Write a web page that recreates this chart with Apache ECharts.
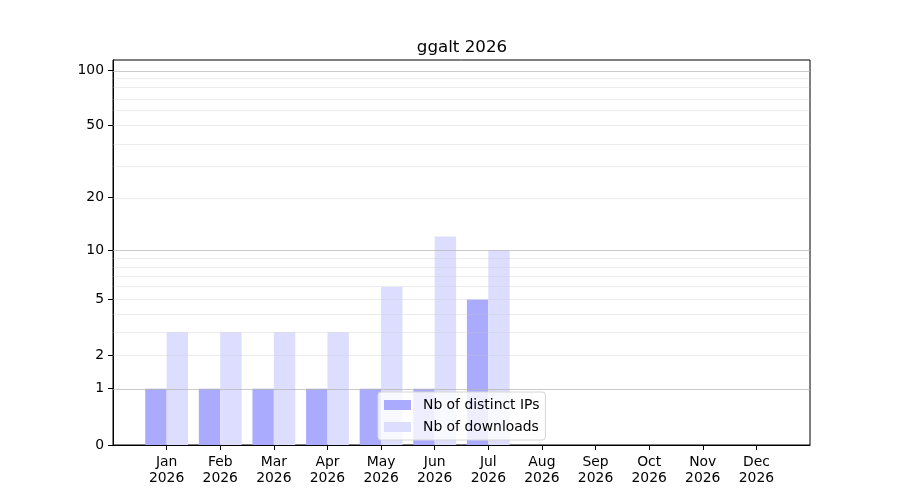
<!DOCTYPE html>
<html>
<head>
<meta charset="utf-8">
<title>ggalt 2026</title>
<script src="https://cdn.jsdelivr.net/npm/echarts@6/dist/echarts.min.js"></script>
<style>
    html, body { margin: 0; padding: 0; background: #fff; }
    #main { width: 900px; height: 500px; }
</style>
</head>
<body>
<div id="main"></div>
<script>
'use strict';

// data
var months = ['Jan', 'Feb', 'Mar', 'Apr', 'May', 'Jun', 'Jul', 'Aug', 'Sep', 'Oct', 'Nov', 'Dec'];
var year = '2026';
var distinctIps = [1, 1, 1, 1, 1, 1, 5];
var downloads = [3, 3, 3, 3, 6, 12, 10];
var yTicks = [0, 1, 2, 5, 10, 20, 50, 100];
var majorGrid = [1, 10, 100];
var minorGrid = [2, 3, 4, 5, 6, 7, 8, 9, 20, 30, 40, 50, 60, 70, 80, 90];

// y scale is log10(1 + v), like the original
function fwd(v) { return Math.log10(1 + v); }
function back(t) { return Math.round(Math.pow(10, t) - 1); }

function toPoints(arr) {
    var out = [];
    for (var i = 0; i < arr.length; i++) {
        out.push([i, fwd(arr[i])]);
    }
    return out;
}

function gridLines(arr, color) {
    return arr.map(function (v) {
        return { yAxis: fwd(v), lineStyle: { color: color, width: 1, type: 'solid' } };
    });
}

var monthIdx = months.map(function (m, i) { return i; });
var font = 'DejaVu Sans';

var myChart = echarts.init(document.getElementById('main'));
var option = {
    animation: false,
    backgroundColor: '#fff',
    title: {
        text: 'ggalt ' + year,
        left: 457,
        top: 34,
        textAlign: 'center',
        textStyle: { fontFamily: font, fontSize: 16.7, fontWeight: 'normal', color: '#000' }
    },
    legend: {
        orient: 'vertical',
        left: 378,
        top: 392,
        itemWidth: 27,
        itemHeight: 10,
        itemGap: 8,
        padding: [6, 6, 6, 6],
        backgroundColor: 'rgba(255,255,255,0.8)',
        borderColor: '#d6d6d6',
        borderWidth: 1,
        borderRadius: 3,
        icon: 'rect',
        textStyle: { fontFamily: font, fontSize: 13.9, color: '#000', padding: [0, 0, 0, 7] },
        data: ['Nb of distinct IPs', 'Nb of downloads']
    },
    grid: {
        left: 113,
        right: 90,
        top: 60,
        bottom: 55,
        show: true,
        borderColor: '#000',
        borderWidth: 1,
        backgroundColor: 'transparent'
    },
    xAxis: {
        type: 'value',
        min: -1,
        max: 12,
        interval: 1,
        splitLine: { show: false },
        axisLine: { show: true, onZero: false, lineStyle: { color: '#000' } },
        axisTick: { show: true, length: 5, customValues: monthIdx, lineStyle: { color: '#000' } },
        axisLabel: {
            customValues: monthIdx,
            margin: 9,
            fontFamily: font,
            fontSize: 13.9,
            lineHeight: 16,
            color: '#000',
            formatter: function (v) {
                return months[v] ? months[v] + '\n' + year : '';
            }
        }
    },
    yAxis: {
        type: 'value',
        min: 0,
        max: 2.0577,
        splitLine: { show: false },
        axisLine: { show: true, onZero: false, lineStyle: { color: '#000' } },
        axisTick: { show: true, length: 5, customValues: yTicks.map(fwd), lineStyle: { color: '#000' } },
        axisLabel: {
            customValues: yTicks.map(fwd),
            margin: 9,
            padding: [4, 0, 0, 0],
            fontFamily: font,
            fontSize: 13.9,
            color: '#000',
            formatter: function (t) { return String(back(t)); }
        }
    },
    series: [
        {
            name: 'Nb of distinct IPs',
            type: 'bar',
            barWidth: 21.4,
            barGap: '0%',
            itemStyle: { color: '#aaaaff' },
            data: toPoints(distinctIps)
        },
        {
            name: 'Nb of downloads',
            type: 'bar',
            barWidth: 21.4,
            barGap: '0%',
            itemStyle: { color: '#ddddff' },
            data: toPoints(downloads)
        },
        {
            name: 'grid',
            type: 'line',
            data: [],
            z: 3,
            silent: true,
            markLine: {
                silent: true,
                symbol: 'none',
                label: { show: false },
                animation: false,
                data: gridLines(minorGrid, 'rgba(200,200,200,0.35)').concat(gridLines(majorGrid, 'rgba(180,180,180,0.7)'))
            }
        }
    ]
};
myChart.setOption(option);
</script>
</body>
</html>
